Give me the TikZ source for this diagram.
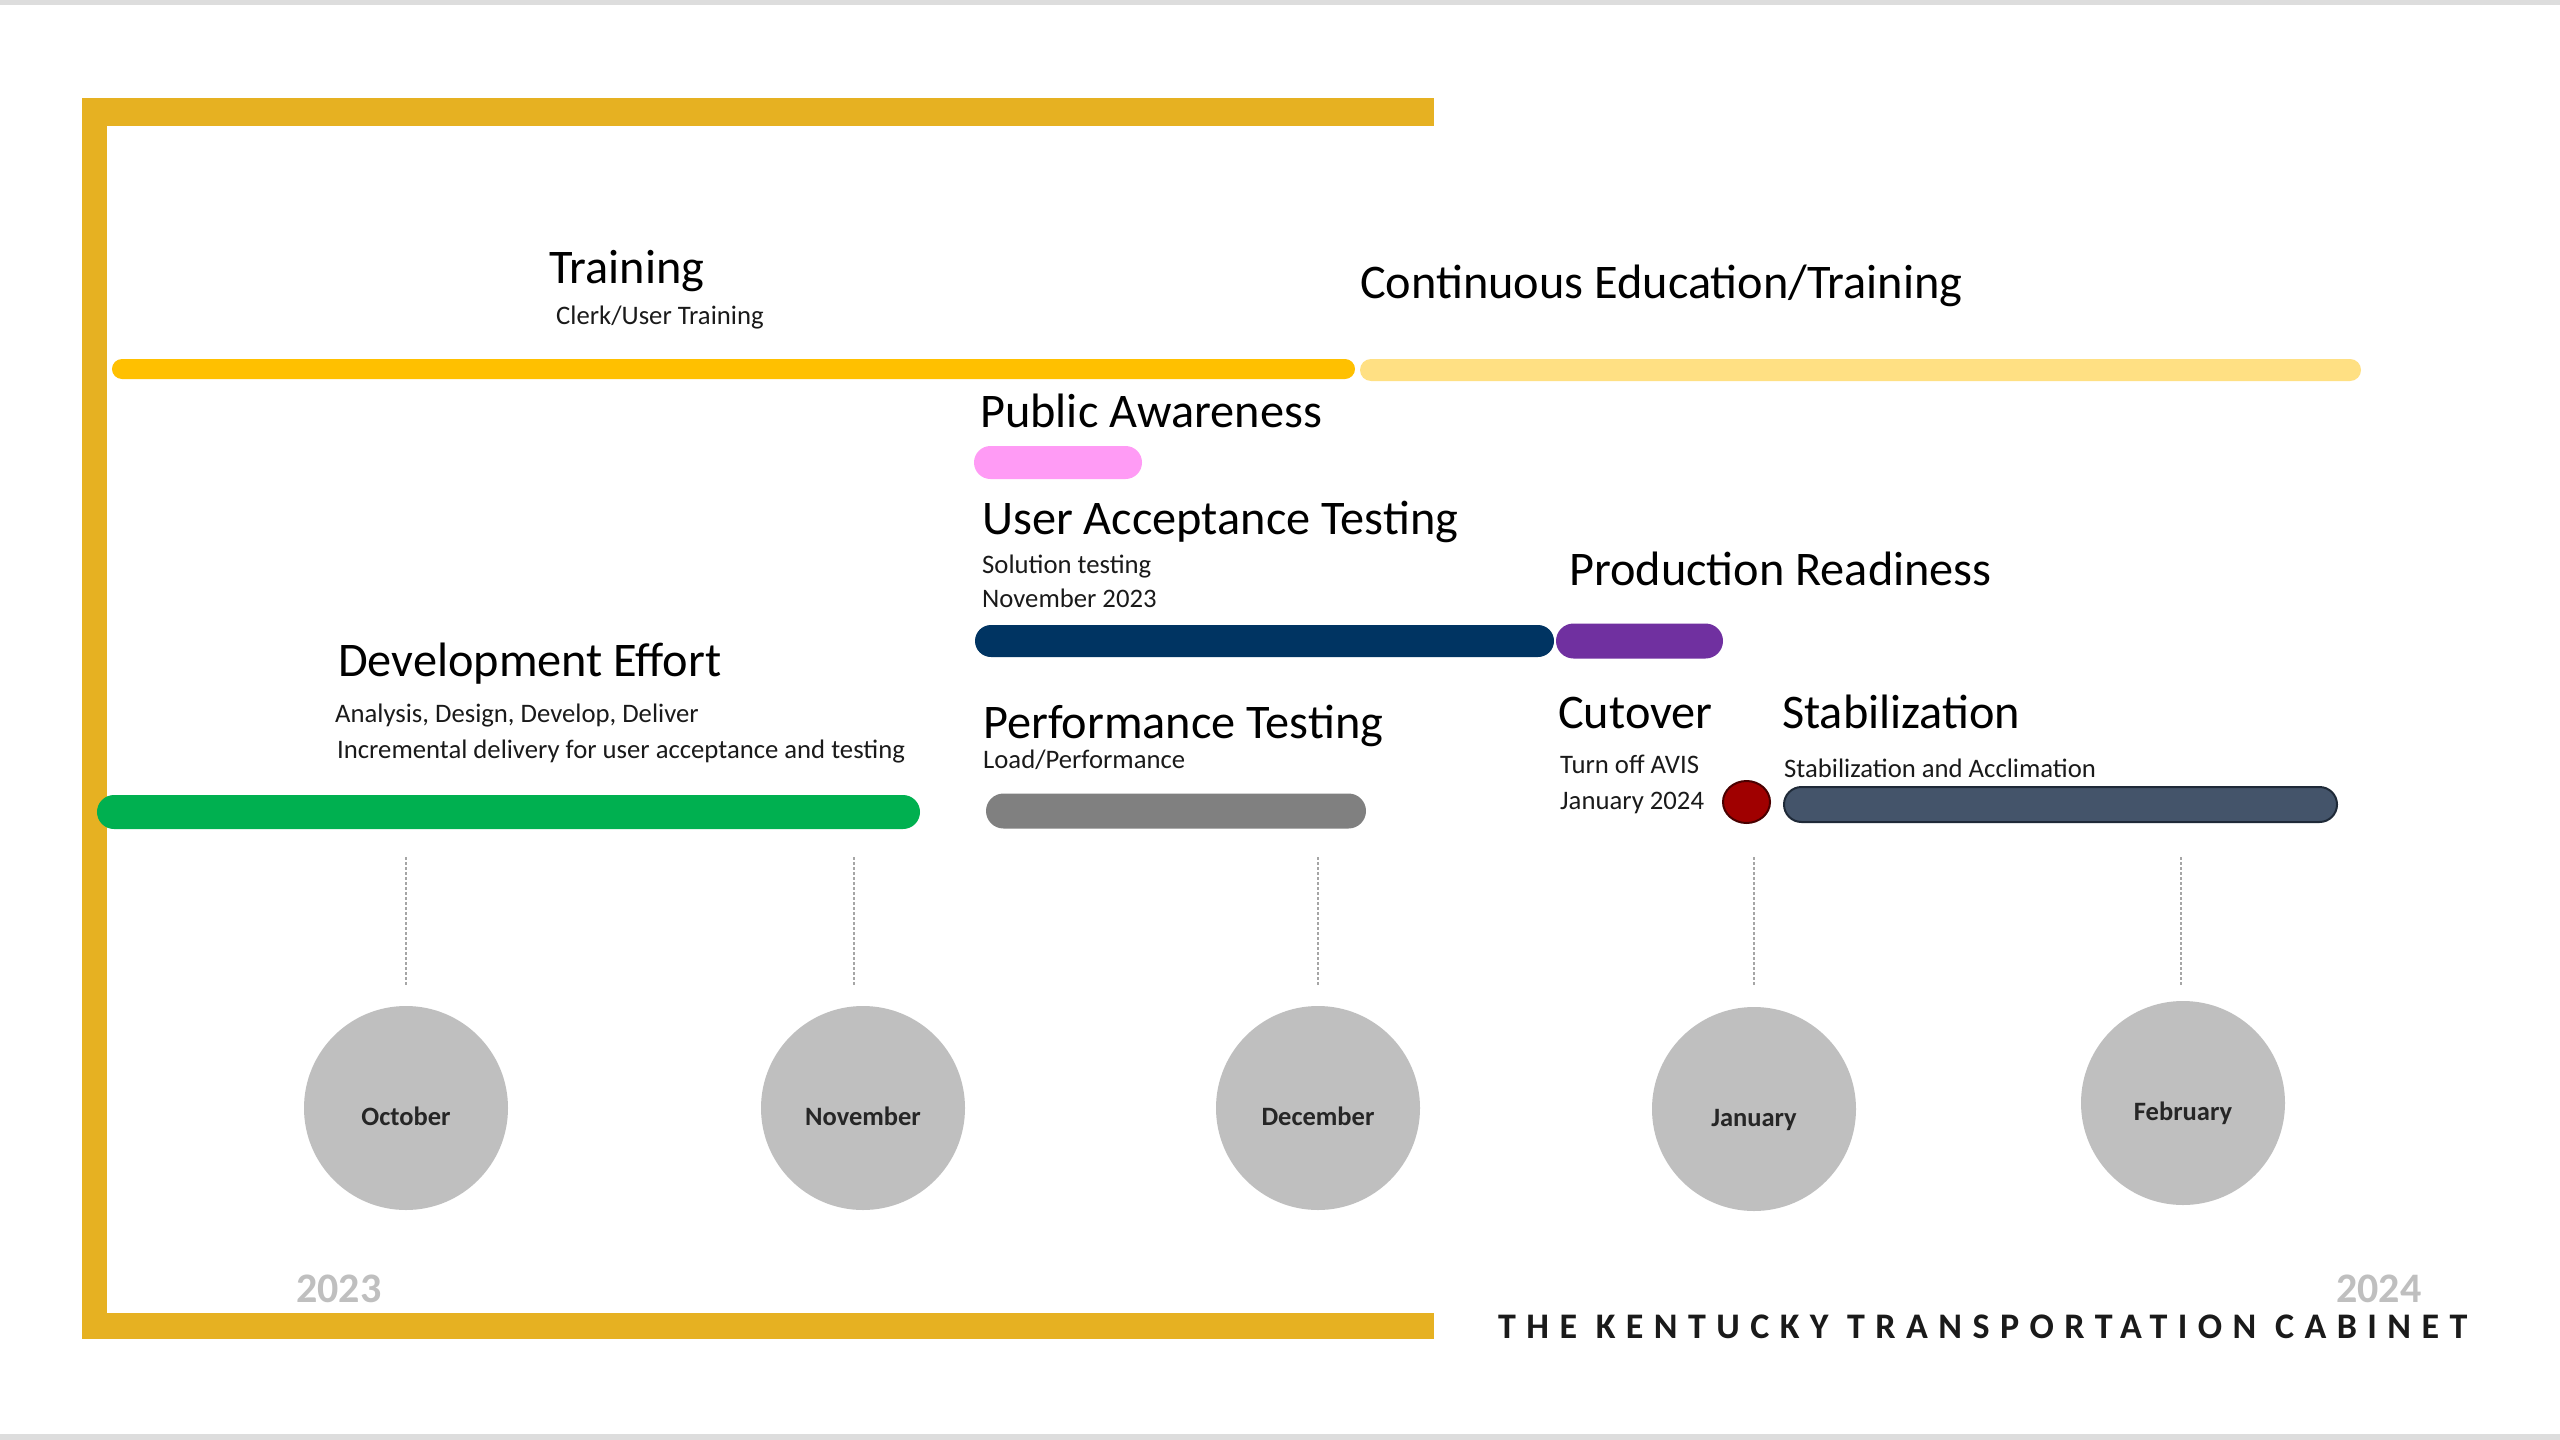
\documentclass[tikz,border=0pt]{standalone}
\usepackage{fontspec}
\setmainfont{Carlito}
\usetikzlibrary{shapes.misc,shapes.geometric}
\definecolor{framegold}{RGB}{230,177,34}
\definecolor{edgegray}{RGB}{221,221,221}
\definecolor{trainyellow}{RGB}{255,192,0}
\definecolor{contyellow}{RGB}{255,224,131}
\definecolor{pinkbar}{RGB}{255,155,245}
\definecolor{navybar}{RGB}{0,52,98}
\definecolor{purplebar}{RGB}{112,48,160}
\definecolor{greenbar}{RGB}{0,176,80}
\definecolor{graybar}{RGB}{128,128,128}
\definecolor{stabbar}{RGB}{68,84,106}
\definecolor{stabedge}{RGB}{31,42,56}
\definecolor{cutred}{RGB}{160,0,0}
\definecolor{cutedge}{RGB}{74,0,0}
\definecolor{monthgray}{RGB}{191,191,191}
\definecolor{yeargray}{RGB}{191,191,191}
\definecolor{ticklinegray}{RGB}{166,166,166}
\definecolor{txt}{RGB}{26,26,26}
\definecolor{monthtxt}{RGB}{38,38,38}
\begin{document}
\begin{tikzpicture}[x=1bp,y=-1bp,
  bar/.style={shape=rounded rectangle, draw=none, inner sep=0pt},
  head/.style={anchor=base west, inner sep=0pt, text=black, font=\fontsize{48.3bp}{58bp}\selectfont},
  sub/.style={anchor=base west, inner sep=0pt, text=txt, font=\fontsize{26.7bp}{32bp}\selectfont},
  month/.style={circle, fill=monthgray, draw=none, minimum size=204bp, inner sep=0pt,
    text=monthtxt, font=\fontsize{26.5bp}{32bp}\selectfont\bfseries, text height=40bp, text depth=6bp},
  tickline/.style={draw=ticklinegray, line width=1.6bp, dash pattern=on 3bp off 2bp},
  year/.style={anchor=base west, inner sep=0pt, text=yeargray, font=\fontsize{42bp}{50bp}\selectfont\bfseries}
]
\useasboundingbox (0,0) rectangle (2560,1440);
\fill[white] (0,0) rectangle (2560,1440);
\fill[edgegray] (0,0) rectangle (2560,5);
\fill[edgegray] (0,1434) rectangle (2560,1440);
% frame
\fill[framegold] (82,98) rectangle (1434,126);
\fill[framegold] (82,98) rectangle (107,1339);
\fill[framegold] (82,1313) rectangle (1434,1339);

% bars
\node[bar, fill=trainyellow, minimum width=1243bp, minimum height=20bp] (trainbar) at (733.5,369) {};
\node[bar, fill=contyellow, minimum width=1001bp, minimum height=22bp] (contbar) at (1860.5,370) {};
\node[bar, fill=pinkbar, minimum width=168bp, minimum height=33bp] (pinkb) at (1058,462.5) {};
\node[bar, fill=navybar, minimum width=579bp, minimum height=32bp] (navyb) at (1264.5,641) {};
\node[bar, fill=purplebar, minimum width=167bp, minimum height=35bp] (purpb) at (1639.5,641) {};
\node[bar, fill=greenbar, minimum width=823bp, minimum height=34bp] (greenb) at (508.5,812) {};
\node[bar, fill=graybar, minimum width=380bp, minimum height=35bp] (grayb) at (1176,811) {};
\node[bar, fill=stabbar, draw=stabedge, line width=2bp, minimum width=553bp, minimum height=35bp] (stabb) at (2060.5,804.5) {};
\node[ellipse, fill=cutred, draw=cutedge, line width=2bp, minimum width=47bp, minimum height=42bp, inner sep=0pt] (cutdot) at (1746.5,802) {};

% headings and texts
\node[head] (training) at (549,283) {Training};
\node[sub] (clerk) at (556,324) {Clerk/User Training};
\node[head] (cont) at (1360,298) {Continuous Education/Training};
\node[head] (public) at (980,427) {Public Awareness};
\node[head] (uat) at (982,534) {User Acceptance Testing};
\node[sub] (soltest) at (982,573) {Solution testing};
\node[sub] (nov23) at (982,607) {November 2023};
\node[head] (prod) at (1569,585) {Production Readiness};
\node[head] (dev) at (338,676) {Development Effort};
\node[sub] (ana) at (335,722) {Analysis, Design, Develop, Deliver};
\node[sub] (incr) at (337,758) {Incremental delivery for user acceptance and testing};
\node[head] (perf) at (983,738) {Performance Testing};
\node[sub] (load) at (983,768) {Load/Performance};
\node[head] (cut) at (1558,728) {Cutover};
\node[sub] (avis) at (1560,773) {Turn off AVIS};
\node[sub] (jan24) at (1560,809) {January 2024};
\node[head] (stab) at (1782,728) {Stabilization};
\node[sub] (stabsub) at (1784,777) {Stabilization and Acclimation};

% month circles
\node[month] (oct) at (406,1108) {October};
\node[month] (nov) at (863,1108) {November};
\node[month] (dec) at (1318,1108) {December};
\node[month] (jan) at (1754,1109) {January};
\node[month] (feb) at (2183,1103) {February};

% tick lines
\coordinate (toct) at (406,857);
\coordinate (tnov) at (854,857);
\coordinate (tdec) at (1318,857);
\coordinate (tjan) at (1754,857);
\coordinate (tfeb) at (2181,857);
\draw[tickline, shorten >=19bp] (toct) -- (toct |- oct.north);
\draw[tickline, shorten >=19bp] (tnov) -- (tnov |- nov.north);
\draw[tickline, shorten >=19bp] (tdec) -- (tdec |- dec.north);
\draw[tickline, shorten >=20bp] (tjan) -- (tjan |- jan.north);
\draw[tickline, shorten >=16bp] (tfeb) -- (tfeb |- feb.north);

% years and footer
\node[year] (y2023) at (296,1302) {2023};
\node[year] (y2024) at (2336,1302) {2024};
\node[anchor=base west, inner sep=0pt, text=txt,
  font=\fontsize{36bp}{43bp}\selectfont\bfseries\addfontfeatures{LetterSpace=29}] (ktc) at (1498,1338) {THE KENTUCKY TRANSPORTATION CABINET};
\end{tikzpicture}
\end{document}
